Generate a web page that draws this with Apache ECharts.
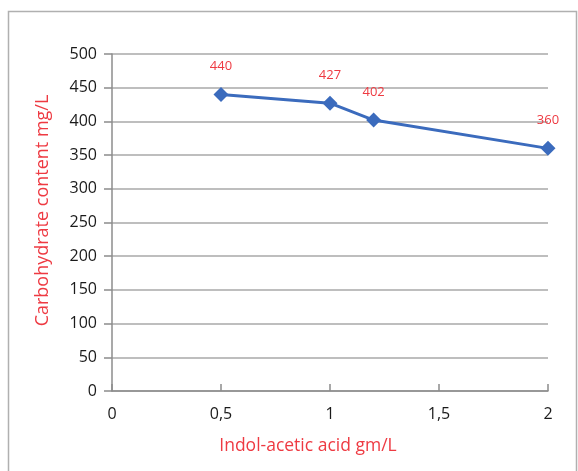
<!DOCTYPE html>
<html>
<head>
<meta charset="utf-8">
<script src="https://cdn.jsdelivr.net/npm/echarts@6/dist/echarts.min.js"></script>
<style>
html,body{margin:0;padding:0;background:#fff;}
#c{width:578px;height:471px;}
</style>
</head>
<body>
<div id="c"></div>
<script>
var xValues = [0.5, 1, 1.2, 2];
var yValues = [440, 427, 402, 360];
var xTickLabels = {0:'0', 0.5:'0,5', 1:'1', 1.5:'1,5', 2:'2'};
var xTitle = 'Indol-acetic acid gm/L';
var yTitle = 'Carbohydrate content mg/L';

var chart = echarts.init(document.getElementById('c'), null, {renderer:'canvas'});
var font = '"Open Sans", Lato, sans-serif';
var pts = xValues.map(function(x,i){return [x, yValues[i]];});
chart.setOption({
  animation:false,
  backgroundColor:'#fff',
  graphic:[{type:'rect', shape:{x:8.5,y:11.5,width:568,height:470}, style:{fill:'none', stroke:'#b0b0b0', lineWidth:1.5}, silent:true}],
  grid:{left:112, right:30, top:54, bottom:80},
  xAxis:{
    type:'value', min:0, max:2, interval:0.5,
    name:xTitle, nameLocation:'middle', nameGap:46,
    nameTextStyle:{color:'#ee3a42', fontSize:17.5, fontFamily:font, padding:[0,44,0,0]},
    axisLine:{show:true, lineStyle:{color:'#8c8c8c', width:1.5}},
    axisTick:{show:true, inside:true, length:7, lineStyle:{color:'#8c8c8c', width:1.5}},
    axisLabel:{color:'#1a1a1a', fontSize:16, fontFamily:font, margin:15,
      formatter:function(v){return xTickLabels[v]!==undefined?xTickLabels[v]:String(v).replace('.',',');}},
    splitLine:{show:false}
  },
  yAxis:{
    type:'value', min:0, max:500, interval:50,
    name:yTitle, nameLocation:'middle', nameGap:60, nameRotate:90,
    nameTextStyle:{color:'#ee3a42', fontSize:18, fontFamily:font, padding:[0,0,0,24]},
    axisLine:{show:true, lineStyle:{color:'#8c8c8c', width:1.5}},
    axisTick:{show:true, inside:false, length:8, lineStyle:{color:'#8c8c8c', width:1.5}},
    axisLabel:{color:'#1a1a1a', fontSize:16, fontFamily:font, margin:15},
    splitLine:{show:true, lineStyle:{color:'#a8a8a8', width:1.5}}
  },
  series:[{
    type:'line', data:pts,
    symbol:'diamond', symbolSize:15,
    lineStyle:{color:'#3b6bbd', width:3},
    itemStyle:{color:'#3b6bbd'},
    label:{show:true, position:'top', distance:14, color:'#ee3a42', fontSize:13, fontFamily:font}
  }]
});
</script>
</body>
</html>
